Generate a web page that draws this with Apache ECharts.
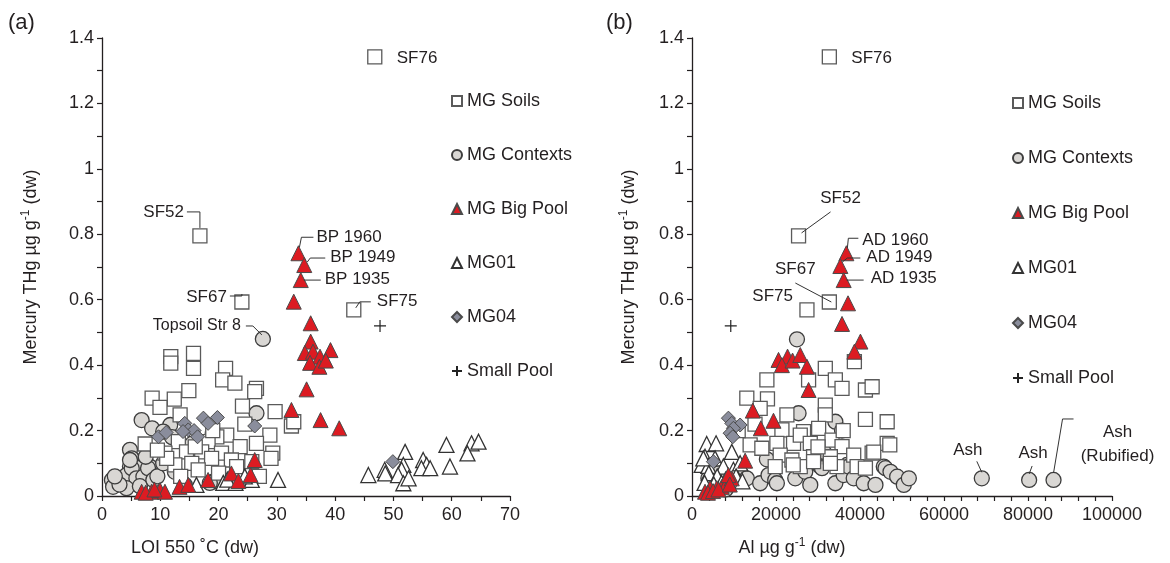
<!DOCTYPE html>
<html>
<head>
<meta charset="utf-8">
<script src="https://cdn.jsdelivr.net/npm/echarts@6/dist/echarts.min.js"></script>
<style>html,body{margin:0;padding:0;background:#fff}#c{width:1170px;height:563px}</style>
</head>
<body>
<div id="c"></div>
<script>
// ---------- DATA ----------
const seriesNames = ['MG Soils','MG Contexts','MG Big Pool','MG01','MG04','Small Pool'];
const yTicks = [0,0.2,0.4,0.6,0.8,1,1.2,1.4];
const xTicksLOI = [0,10,20,30,40,50,60,70];
const xTicksAl = [0,20000,40000,60000,80000,100000];

// Panel (a): LOI 550 C (%) vs THg
const soilsL = [[46.8,1.342],[16.8,0.795],[24.0,0.593],[43.2,0.569],
 [11.8,0.426],[11.8,0.406],[15.7,0.436],[15.7,0.39],[21.2,0.39],[20.7,0.355],[22.8,0.345],[14.9,0.322],
 [26.5,0.329],[26.2,0.319],[8.6,0.299],[12.4,0.296],[9.95,0.271],[24.1,0.275],[13.4,0.248],[29.7,0.258],
 [32.5,0.214],[32.9,0.227],[21.4,0.186],[19.7,0.181],[28.8,0.186],[7.4,0.159],[13.1,0.166],[18.2,0.166],
 [26.5,0.161],[23.7,0.151],[14.5,0.135],[17.1,0.135],[10.8,0.131],[20.5,0.131],[29.3,0.131],[18.8,0.115],
 [22.2,0.11],[25.7,0.105],[15.4,0.10],[12.5,0.095],[11.1,0.115],[16.5,0.08],[23.1,0.09],[29.0,0.115],
 [9.5,0.14],[16.0,0.15],[19.0,0.2],[24.5,0.22],[20.0,0.07],[27.0,0.06],[13.5,0.06]];
const contextsL = [[27.6,0.48],
 [6.8,0.232],[8.6,0.207],[11.7,0.217],[10.5,0.197],[26.5,0.253],[4.8,0.141],[5.1,0.115],[8.2,0.09],
 [6.2,0.085],[4.8,0.09],[1.7,0.049],[2.5,0.044],[3.4,0.054],[4.2,0.064],[5.1,0.085],[5.9,0.054],
 [7.1,0.059],[7.9,0.085],[8.8,0.049],[12.5,0.074],[14.2,0.034],[19.1,0.044],[4.8,0.11],[4.2,0.024],
 [1.9,0.028],[3.0,0.035],[6.5,0.03],[9.5,0.06],[2.2,0.06],[10.5,0.1],[7.5,0.12],[12.0,0.18],[15.5,0.16],
 [19.0,0.19],[18.5,0.04]];
const bigPoolL = [[33.7,0.742],[34.7,0.706],[34.1,0.66],[32.9,0.594],[35.8,0.528],[35.8,0.472],[34.8,0.437],
 [36.2,0.441],[37.4,0.426],[39.2,0.446],[35.7,0.407],[37.3,0.395],[38.4,0.414],[35.1,0.326],[32.5,0.263],
 [37.5,0.232],[40.7,0.207],[6.8,0.013],[8.5,0.013],[9.95,0.018],[10.8,0.013],[13.3,0.028],[14.8,0.034],
 [18.2,0.049],[22.2,0.069],[23.4,0.046],[25.5,0.064],[26.2,0.11],[7.5,0.01],[9.0,0.02]];
const mg01L = [[52,0.135],[59.1,0.156],[63.4,0.161],[64.6,0.166],[62.7,0.13],[59.7,0.09],[55.1,0.11],
 [55.7,0.095],[54.8,0.085],[56.3,0.085],[51.7,0.095],[51.4,0.08],[48.5,0.08],[45.7,0.064],[48.6,0.069],
 [50.8,0.064],[51.7,0.039],[52.6,0.054],[16.2,0.034],[20.8,0.04],[22.9,0.04],[25.7,0.049],[30.2,0.049],
 [24.5,0.06],[21.5,0.05]];
const mg04L = [[9.7,0.181],[11,0.194],[14.2,0.222],[14.8,0.202],[15.8,0.2],[16.4,0.181],[17.4,0.238],
 [18.2,0.222],[19.8,0.24],[26.2,0.214],[13.9,0.197],[49.9,0.105]];
const smallPoolL = [[47.7,0.52]];

// Panel (b): Al (ug/g) vs THg
const soilsR = [[32700,1.342],[25370,0.795],[32700,0.593],[27370,0.569],
 [38660,0.411],[31740,0.39],[34130,0.355],[35720,0.329],[41290,0.324],[42890,0.334],[17830,0.355],
 [27760,0.355],[13050,0.299],[17970,0.297],[16230,0.268],[31740,0.278],[31740,0.248],[22600,0.248],
 [41290,0.234],[46470,0.227],[21410,0.202],[26560,0.197],[30150,0.207],[13840,0.156],[16630,0.146],
 [20210,0.161],[24180,0.161],[25780,0.186],[28160,0.161],[33340,0.171],[35720,0.151],[38500,0.125],
 [42890,0.131],[46470,0.161],[21000,0.125],[23790,0.11],[28950,0.12],[32940,0.12],[19810,0.09],
 [25780,0.09],[34530,0.09],[39310,0.09],[47090,0.156],[43270,0.134],[24100,0.095],[28950,0.105],
 [32940,0.10],[41290,0.085],[11000,0.2],[15000,0.22],[30000,0.15],[36000,0.2]];
const contextsR = [[24990,0.479],[25370,0.253],[34130,0.227],[35720,0.2],[31340,0.135],[17830,0.112],
 [36920,0.095],[30550,0.09],[26970,0.08],[45660,0.09],[3900,0.054],[5900,0.049],[11860,0.064],
 [13050,0.054],[16230,0.039],[18210,0.064],[19810,0.049],[20210,0.039],[24580,0.054],[26970,0.074],
 [28160,0.034],[30950,0.085],[34130,0.039],[36110,0.064],[37310,0.09],[38500,0.054],[40880,0.039],
 [43680,0.034],[46060,0.085],[47260,0.074],[48850,0.059],[50430,0.034],[51630,0.054],
 [69000,0.054],[80270,0.049],[86080,0.049],[4500,0.03],[6500,0.07],[8000,0.02]];
const bigPoolR = [[36750,0.742],[35320,0.703],[36110,0.66],[37150,0.589],[35720,0.526],[40100,0.472],
 [38660,0.441],[20600,0.416],[22750,0.426],[21400,0.40],[23940,0.414],[25780,0.431],[27370,0.395],
 [27760,0.324],[14480,0.261],[19400,0.23],[16390,0.207],[12650,0.108],[3100,0.013],[4300,0.024],
 [5890,0.024],[7090,0.028],[8280,0.039],[9470,0.054],[8670,0.064],[3800,0.01],[5000,0.015],
 [6300,0.02],[9000,0.035]];
const mg01R = [[3500,0.159],[5730,0.161],[9470,0.135],[3100,0.12],[5490,0.115],[2310,0.095],[3900,0.092],
 [7470,0.09],[9860,0.08],[11460,0.10],[2700,0.115],[4000,0.07],[6000,0.06],[8000,0.05],[10500,0.06],
 [3000,0.04],[5200,0.035],[7000,0.04],[12000,0.045]];
const mg04R = [[8670,0.238],[9470,0.222],[11460,0.217],[9860,0.207],[9070,0.192],[9710,0.181],[5090,0.105]];
const smallPoolR = [[9230,0.52]];

// ---------- STYLE ----------
const FONT = '"Liberation Sans", Arial, sans-serif';
const TXT = '#231f20';
const styles = {
  'MG Soils':    {symbol:'rect', size:14, item:{color:'#ffffff', borderColor:'#5a5a5a', borderWidth:1.3}},
  'MG Contexts': {symbol:'circle', size:15, item:{color:'#d9d7d4', borderColor:'#3d3d3d', borderWidth:1.3}},
  'MG Big Pool': {symbol:'triangle', size:15, item:{color:'#dc1b22', borderColor:'#4a4a4a', borderWidth:1}},
  'MG01':        {symbol:'triangle', size:15, item:{color:'#ffffff', borderColor:'#333333', borderWidth:1.3}},
  'MG04':        {symbol:'diamond', size:14, item:{color:'#8a8d9c', borderColor:'#4a4a4a', borderWidth:1}},
  'Small Pool':  {symbol:'path://M5,0L5,10M0,5L10,5', size:12, item:{color:'rgba(0,0,0,0)', borderColor:'#222', borderWidth:1.2}}
};
const order = ['MG Contexts','MG Soils','MG01','MG04','MG Big Pool','Small Pool'];
const dataL = {'MG Soils':soilsL,'MG Contexts':contextsL,'MG Big Pool':bigPoolL,'MG01':mg01L,'MG04':mg04L,'Small Pool':smallPoolL};
const dataR = {'MG Soils':soilsR,'MG Contexts':contextsR,'MG Big Pool':bigPoolR,'MG01':mg01R,'MG04':mg04R,'Small Pool':smallPoolR};

function mkSeries(idx, data){
  return order.map(n => ({
    name:n, type:'scatter', xAxisIndex:idx, yAxisIndex:idx,
    symbol:styles[n].symbol, symbolSize:styles[n].size,
    itemStyle:Object.assign({opacity:1}, styles[n].item),
    emphasis:{disabled:true}, data:data[n]
  }));
}

const axisLine = {show:true, lineStyle:{color:'#231f20', width:1.3}};
function yAxis(idx){
  return {gridIndex:idx, type:'value', min:0, max:1.4, interval:0.2,
    axisLine:axisLine, axisTick:{show:true, length:5, lineStyle:{color:'#231f20', width:1.2}},
    minorTick:{show:true, splitNumber:2, length:5, lineStyle:{color:'#231f20', width:1.2}},
    splitLine:{show:false}, minorSplitLine:{show:false},
    axisLabel:{fontSize:18, color:TXT, fontFamily:FONT, margin:8, formatter:v => String(+v.toFixed(1))},
    name:'{n|Mercury THg µg g}{s|-1}{n| (dw)}', nameLocation:'middle', nameGap:idx===0?60:52, nameRotate:90,
    nameTextStyle:{fontFamily:FONT, color:TXT, rich:{n:{fontSize:18, fontFamily:FONT, color:TXT, lineHeight:22}, s:{fontSize:12, fontFamily:FONT, color:TXT, verticalAlign:'top', lineHeight:14}}}
  };
}
function xAxis(idx, max, interval, minorSplit){
  return {gridIndex:idx, type:'value', min:0, max:max, interval:interval,
    axisLine:axisLine, axisTick:{show:true, length:5, lineStyle:{color:'#231f20', width:1.2}},
    minorTick:{show:true, splitNumber:minorSplit, length:5, lineStyle:{color:'#231f20', width:1.2}},
    splitLine:{show:false}, minorSplitLine:{show:false},
    axisLabel:{fontSize:18, color:TXT, fontFamily:FONT, margin:10, formatter:v => String(Math.round(v))}
  };
}
const legendBase = {orient:'vertical', itemWidth:10, itemHeight:10, selectedMode:false,
  textStyle:{fontSize:18, lineHeight:20, color:TXT, fontFamily:FONT}, data:seriesNames};

const chart = echarts.init(document.getElementById('c'), null, {renderer:'canvas'});
chart.setOption({
  animation:false,
  backgroundColor:'#fff',
  grid:[{left:102, right:660, top:38, bottom:67},{left:692, right:58, top:38, bottom:67}],
  xAxis:[xAxis(0,70,10,2), xAxis(1,100000,20000,5)],
  yAxis:[yAxis(0), yAxis(1)],
  legend:[Object.assign({left:446, top:86, itemGap:34}, legendBase),
          Object.assign({left:1007, top:88, itemGap:35}, legendBase)],
  series:mkSeries(0,dataL).concat(mkSeries(1,dataR))
});

// ---------- ANNOTATIONS (anchored to data points via the axes) ----------
const annotations = [
  {g:0, pt:soilsL[0], lines:[{t:'SF76', dx:22, dy:1, a:'left'}]},
  {g:0, pt:soilsL[1], lines:[{t:'SF52', dx:-16, dy:-24, a:'right'}], path:[[-13,-24],[0,-24],[0,-8]]},
  {g:0, pt:soilsL[2], lines:[{t:'SF67', dx:-15, dy:-5, a:'right'}], path:[[-12,-6],[0,-6],[0,-8]]},
  {g:0, pt:soilsL[3], lines:[{t:'SF75', dx:23, dy:-9, a:'left'}], path:[[2,-2],[6,-8],[17,-8]]},
  {g:0, pt:contextsL[0], lines:[{t:'Topsoil Str 8', dx:-22, dy:-13, a:'right', fs:16}], path:[[-17,-13],[-10,-13],[-1,-4]]},
  {g:0, pt:bigPoolL[0], lines:[{t:'BP 1960', dx:18, dy:-16, a:'left'}], path:[[1,-6],[3,-16],[15,-16]]},
  {g:0, pt:bigPoolL[1], lines:[{t:'BP 1949', dx:26, dy:-8, a:'left'}], path:[[3,-3],[6,-7],[21,-7]]},
  {g:0, pt:bigPoolL[2], lines:[{t:'BP 1935', dx:24, dy:-1, a:'left'}], path:[[3,0],[20,0]]},
  {g:1, pt:soilsR[0], lines:[{t:'SF76', dx:22, dy:1, a:'left'}]},
  {g:1, pt:soilsR[1], lines:[{t:'SF52', dx:42, dy:-38, a:'center'}], path:[[3,-3],[32,-24]]},
  {g:1, pt:soilsR[2], lines:[{t:'SF67', dx:-34, dy:-33, a:'center'}], path:[[-34,-19],[2,0]]},
  {g:1, pt:soilsR[3], lines:[{t:'SF75', dx:-14, dy:-14, a:'right'}]},
  {g:1, pt:bigPoolR[0], lines:[{t:'AD 1960', dx:16, dy:-13, a:'left'}], path:[[1,-5],[2,-15],[12,-15]]},
  {g:1, pt:bigPoolR[1], lines:[{t:'AD 1949', dx:26, dy:-9, a:'left'}], path:[[2,-4],[7,-8],[20,-8]]},
  {g:1, pt:bigPoolR[2], lines:[{t:'AD 1935', dx:27, dy:-2, a:'left'}], path:[[3,0],[20,0]]},
  {g:1, pt:contextsR[33], lines:[{t:'Ash', dx:-14, dy:-28, a:'center'}], path:[[-5,-17],[0,-6]]},
  {g:1, pt:contextsR[34], lines:[{t:'Ash', dx:4, dy:-27, a:'center'}], path:[[3,-14],[0,-6]]},
  {g:1, pt:contextsR[35], lines:[{t:'Ash', dx:64, dy:-48, a:'center'},{t:'(Rubified)', dx:64, dy:-24, a:'center'}], path:[[0,-7],[9,-61],[20,-61]]}
];
const graphics = [
  {type:'text', x:8, y:12, style:{text:'(a)', font:'22px '+FONT, fill:TXT}},
  {type:'text', x:606, y:12, style:{text:'(b)', font:'22px '+FONT, fill:TXT}},
  {type:'text', x:195, y:548, style:{text:'LOI 550 ˚C (dw)', font:'18px '+FONT, fill:TXT, textAlign:'center', textVerticalAlign:'middle'}},
  {type:'text', x:792, y:548, style:{text:'{n|Al µg g}{s|-1}{n| (dw)}', font:'18px '+FONT, fill:TXT, textAlign:'center', textVerticalAlign:'middle',
     rich:{n:{fontSize:18, fontFamily:FONT, fill:TXT, lineHeight:22}, s:{fontSize:12, fontFamily:FONT, fill:TXT, verticalAlign:'top', lineHeight:14}}}}
];
annotations.forEach(an => {
  const p = chart.convertToPixel({gridIndex:an.g}, an.pt);
  an.lines.forEach(l => {
    graphics.push({type:'text', x:p[0]+l.dx, y:p[1]+l.dy, z:100,
      style:{text:l.t, font:(l.fs||17)+'px '+FONT, fill:TXT, textAlign:l.a, textVerticalAlign:'middle'}});
  });
  if (an.path) {
    graphics.push({type:'polyline', z:100, shape:{points:an.path.map(q=>[p[0]+q[0], p[1]+q[1]])},
      style:{stroke:'#333', lineWidth:1, fill:null}});
  }
});
chart.setOption({graphic:graphics});
</script>
</body>
</html>
